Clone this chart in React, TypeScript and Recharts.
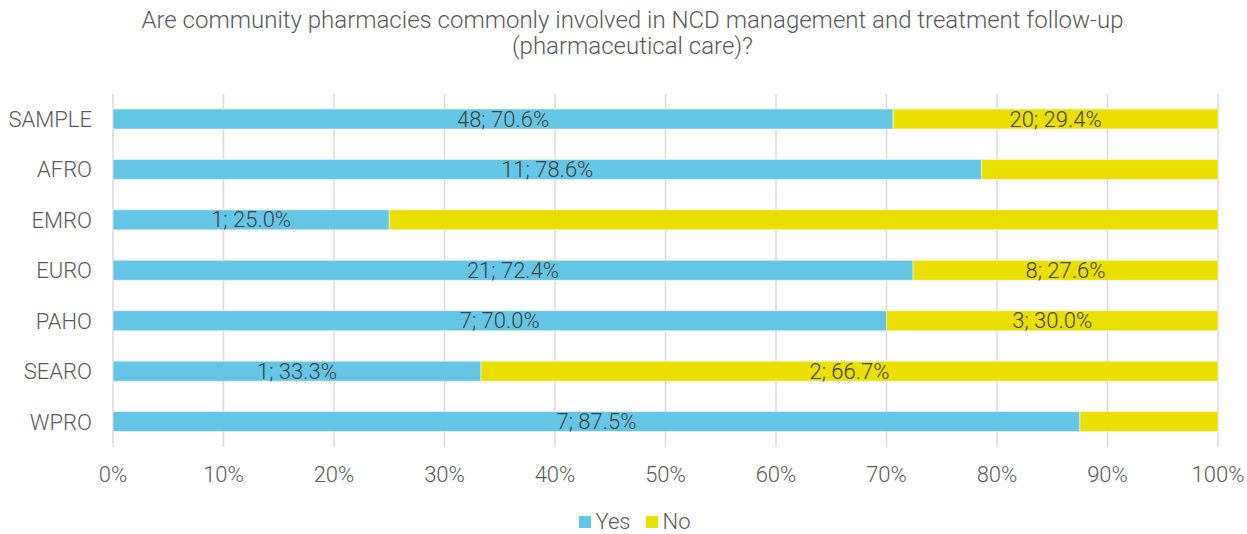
import { BarChart, Bar, XAxis, YAxis, CartesianGrid, Legend, LabelList } from 'recharts'

const YES_COLOR = '#64c5e4'
const NO_COLOR = '#ebdf00'
const GRID_COLOR = '#d9d9d9'
const AXIS_TEXT = '#595959'
const LABEL_TEXT = '#404040'
const FONT = 'Roboto, "Open Sans", sans-serif'

const REGIONS = ['SAMPLE', 'AFRO', 'EMRO', 'EURO', 'PAHO', 'SEARO', 'WPRO']
const YES_PCT = [70.6, 78.6, 25.0, 72.4, 70.0, 33.3, 87.5]
const NO_PCT = [29.4, 21.4, 75.0, 27.6, 30.0, 66.7, 12.5]
const YES_N = [48, 11, 1, 21, 7, 1, 7]
const NO_N = [20, 3, 3, 8, 3, 2, 1]
// the original only labels some segments
const YES_SHOW = [true, true, true, true, true, true, true]
const NO_SHOW = [true, false, false, true, true, true, false]
const X_TICKS = [0, 10, 20, 30, 40, 50, 60, 70, 80, 90, 100]

const data = REGIONS.map((region, i) => ({
  region,
  Yes: YES_PCT[i],
  No: NO_PCT[i],
  yesLabel: YES_SHOW[i] ? `${YES_N[i]}; ${YES_PCT[i].toFixed(1)}%` : '',
  noLabel: NO_SHOW[i] ? `${NO_N[i]}; ${NO_PCT[i].toFixed(1)}%` : '',
}))

const SegmentLabel = (props: any) => {
  const { x, y, width, height, value } = props
  if (!value) return null
  return (
    <text
      x={Number(x) + Number(width) / 2}
      y={Number(y) + Number(height) / 2}
      textAnchor="middle"
      dominantBaseline="central"
      fill={LABEL_TEXT}
      fontSize={22}
      fontWeight={300}
      fontFamily={FONT}
    >
      {value}
    </text>
  )
}

const LegendContent = () => (
  <div style={{ display: 'flex', justifyContent: 'center', alignItems: 'center', height: 24, lineHeight: '24px', fontFamily: FONT, fontWeight: 300, fontSize: 22, color: AXIS_TEXT, paddingLeft: 22 }}>
    <span style={{ display: 'inline-block', width: 12, height: 12, background: YES_COLOR, marginRight: 5 }} />
    <span style={{ marginRight: 15 }}>Yes</span>
    <span style={{ display: 'inline-block', width: 12, height: 12, background: NO_COLOR, marginRight: 5 }} />
    <span>No</span>
  </div>
)

export default function App() {
  return (
    <div style={{ position: 'absolute', left: 0, top: 0, width: 1247, height: 534, background: '#fff', fontFamily: FONT }}>
      <div style={{ position: 'absolute', top: 7, left: 18, width: 1229, textAlign: 'center', fontSize: 24, fontWeight: 300, lineHeight: '26px', color: AXIS_TEXT }}>
        Are community pharmacies commonly involved in NCD management and treatment follow-up
        <br />
        (pharmaceutical care)?
      </div>
      <BarChart
        width={1247}
        height={534}
        data={data}
        layout="vertical"
        margin={{ top: 94, right: 29, left: 0, bottom: 23 }}
        barSize={20}
      >
        <CartesianGrid horizontal={false} stroke={GRID_COLOR} strokeWidth={1.5} />
        <XAxis
          type="number"
          domain={[0, 100]}
          ticks={X_TICKS}
          tickFormatter={(v: number) => `${v}%`}
          axisLine={false}
          tickLine={false}
          tickSize={0}
          tickMargin={19}
          height={40}
          interval={0}
          tick={{ fill: AXIS_TEXT, fontSize: 22, fontWeight: 300, fontFamily: FONT }}
        />
        <YAxis
          type="category"
          dataKey="region"
          width={113}
          axisLine={false}
          tickLine={false}
          tickSize={0}
          tickMargin={21}
          interval={0}
          tick={{ fill: AXIS_TEXT, fontSize: 22, fontWeight: 300, fontFamily: FONT }}
        />
        <Legend content={<LegendContent />} verticalAlign="bottom" wrapperStyle={{ bottom: 0, left: 0, width: 1247 }} />
        <Bar dataKey="Yes" stackId="a" fill={YES_COLOR} stroke="#ffffff" strokeOpacity={0.5} strokeWidth={1} isAnimationActive={false}>
          <LabelList dataKey="yesLabel" content={SegmentLabel} />
        </Bar>
        <Bar dataKey="No" stackId="a" fill={NO_COLOR} stroke="#ffffff" strokeOpacity={0.5} strokeWidth={1} isAnimationActive={false}>
          <LabelList dataKey="noLabel" content={SegmentLabel} />
        </Bar>
      </BarChart>
    </div>
  )
}
